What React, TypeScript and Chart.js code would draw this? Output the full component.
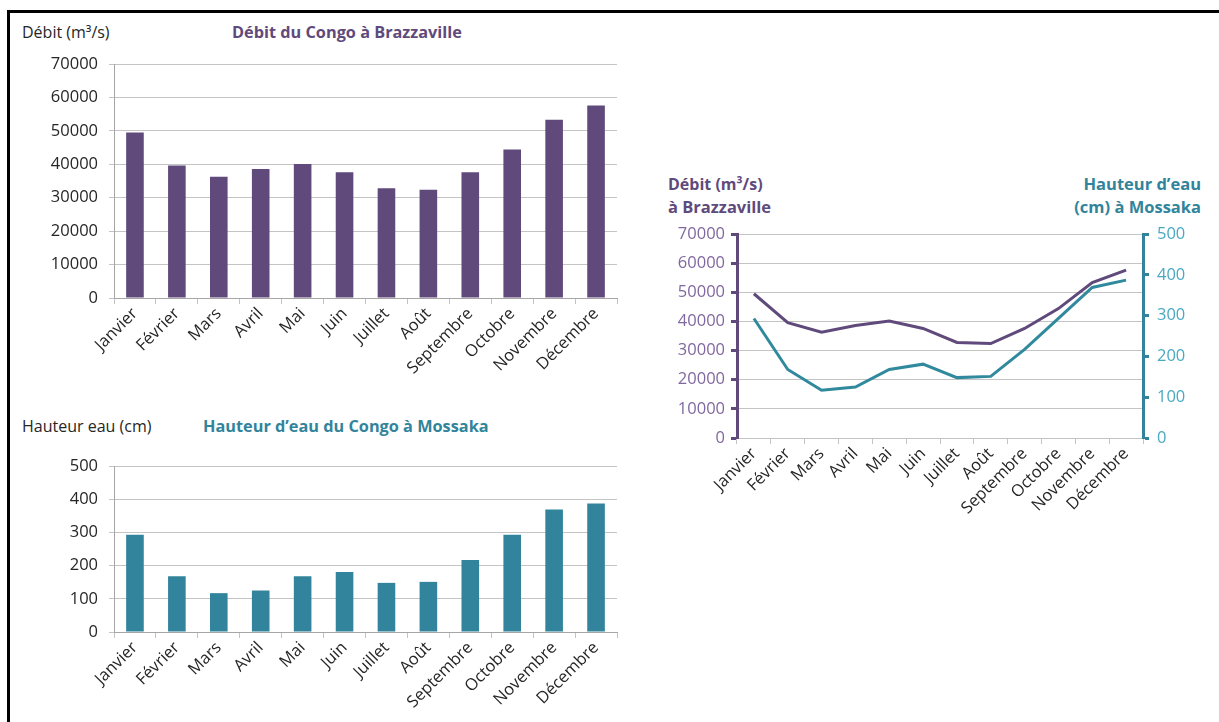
import React, { useEffect, useRef } from "react";
import { Chart, registerables } from "chart.js";

Chart.register(...registerables);

const months = [
  "Janvier", "Février", "Mars", "Avril", "Mai", "Juin",
  "Juillet", "Août", "Septembre", "Octobre", "Novembre", "Décembre",
];
const debitBrazzaville = [49500, 39600, 36300, 38600, 40100, 37600, 32800, 32400, 37600, 44400, 53300, 57600];
const hauteurMossaka = [293, 168, 117, 125, 168, 181, 148, 151, 217, 293, 369, 387];

const PURPLE = "#604a7b";
const TEAL = "#31849b";
const PURPLE_LIGHT = "#8067a0";
const TEAL_LIGHT = "#4aa9c2";
const GRID = "#c4c4c4";
const TEXT = "#262626";
const FONT = "'Open Sans', sans-serif";

const tickFont = { family: FONT, size: 16.5 };

function noSep(v: any) {
  return String(v);
}

function fitY(w: number) {
  return (s: any) => {
    s.width = w;
    s.paddingTop = 0;
    s.paddingBottom = 0;
  };
}

function fitX(h: number) {
  return (s: any) => {
    s.height = h;
    s.paddingLeft = 0;
    s.paddingRight = 0;
  };
}

function barConfig(data: number[], color: string, max: number, step: number, xHeight: number) {
  return {
    type: "bar" as const,
    data: {
      labels: months,
      datasets: [
        {
          data,
          backgroundColor: color,
          borderWidth: 0,
          barPercentage: 0.42,
          categoryPercentage: 1,
        },
      ],
    },
    options: {
      animation: false as const,
      responsive: false,
      maintainAspectRatio: false,
      layout: { padding: { top: 12, right: 5, left: 0, bottom: 0 } },
      plugins: { legend: { display: false }, tooltip: { enabled: false }, title: { display: false } },
      scales: {
        x: {
          grid: { drawOnChartArea: false, drawTicks: true, tickLength: 6, color: GRID },
          border: { color: "#a6a6a6" },
          ticks: { minRotation: 45, maxRotation: 45, color: TEXT, font: tickFont, padding: 0 },
          afterFit: fitX(xHeight),
        },
        y: {
          min: 0,
          max,
          ticks: { stepSize: step, color: TEXT, font: tickFont, padding: 11, callback: noSep },
          grid: { color: GRID, tickLength: 5 },
          border: { color: "#a6a6a6" },
          afterFit: fitY(94),
        },
      },
    },
  };
}

function lineConfig() {
  return {
    type: "line" as const,
    data: {
      labels: months,
      datasets: [
        {
          data: debitBrazzaville,
          yAxisID: "y",
          borderColor: PURPLE,
          backgroundColor: PURPLE,
          borderWidth: 3,
          pointRadius: 0,
          tension: 0,
        },
        {
          data: hauteurMossaka,
          yAxisID: "y1",
          borderColor: "#31899e",
          backgroundColor: "#31899e",
          borderWidth: 3,
          pointRadius: 0,
          tension: 0,
        },
      ],
    },
    options: {
      animation: false as const,
      responsive: false,
      maintainAspectRatio: false,
      layout: { padding: { top: 12, right: 0, left: 0, bottom: 0 } },
      plugins: { legend: { display: false }, tooltip: { enabled: false }, title: { display: false } },
      scales: {
        x: {
          offset: true,
          grid: { offset: true, drawOnChartArea: false, drawTicks: true, tickLength: 6, color: GRID },
          border: { color: GRID },
          ticks: { minRotation: 45, maxRotation: 45, color: TEXT, font: tickFont, padding: 0 },
          afterFit: fitX(84),
        },
        y: {
          position: "left" as const,
          min: 0,
          max: 70000,
          ticks: { stepSize: 10000, color: PURPLE_LIGHT, font: tickFont, padding: 6, callback: noSep },
          grid: { color: GRID, tickColor: PURPLE, tickWidth: 3, tickLength: 6 },
          border: { color: PURPLE, width: 3 },
          afterFit: fitY(87),
        },
        y1: {
          position: "right" as const,
          min: 0,
          max: 500,
          ticks: { stepSize: 100, color: TEAL_LIGHT, font: tickFont, padding: 8, callback: noSep },
          grid: { drawOnChartArea: false, color: TEAL, tickColor: TEAL, tickWidth: 3, tickLength: 6 },
          border: { color: TEAL, width: 3 },
          afterFit: fitY(67),
        },
      },
    },
  };
}

function ChartCanvas({ config, left, top, width, height }: any) {
  const ref = useRef<HTMLCanvasElement | null>(null);
  useEffect(() => {
    if (!ref.current) return;
    const chart = new Chart(ref.current, config);
    return () => chart.destroy();
  }, []);
  return (
    <canvas
      ref={ref}
      width={width}
      height={height}
      style={{ position: "absolute", left, top, width, height }}
    />
  );
}

function Label({ text, left, right, cy, color, bold, size }: any) {
  const style: any = {
    position: "absolute",
    top: cy - 11,
    lineHeight: "22px",
    height: 22,
    whiteSpace: "nowrap",
    fontFamily: FONT,
    fontSize: size,
    fontWeight: bold ? 700 : 400,
    color,
  };
  if (left !== undefined) style.left = left;
  if (right !== undefined) style.right = right;
  return <div style={style}>{text}</div>;
}

export default function App() {
  return (
    <div
      style={{
        position: "fixed",
        left: 0,
        top: 0,
        width: 1219,
        height: 722,
        overflow: "hidden",
        background: "#ffffff",
      }}
    >
      <div
        style={{
          position: "absolute",
          left: 7,
          top: 10,
          width: 1300,
          height: 800,
          border: "3px solid #000",
          boxSizing: "border-box",
        }}
      />
      <Label text="Débit (m³/s)" left={22} cy={32} color={TEXT} size={16} />
      <Label text="Débit du Congo à Brazzaville" left={232} cy={32} color={PURPLE} bold size={16.3} />
      <Label text="Hauteur eau (cm)" left={22} cy={426} color={TEXT} size={16} />
      <Label text="Hauteur d’eau du Congo à Mossaka" left={203} cy={426} color={TEAL} bold size={16.3} />
      <Label text="Débit (m³/s)" left={668} cy={184} color={PURPLE} bold size={16} />
      <Label text="à Brazzaville" left={668} cy={207} color={PURPLE} bold size={16.5} />
      <Label text="Hauteur d’eau" right={18} cy={184} color={TEAL} bold size={16.5} />
      <Label text="(cm) à Mossaka" right={18} cy={207} color={TEAL} bold size={16.5} />

      <ChartCanvas config={barConfig(debitBrazzaville, PURPLE, 70000, 10000, 94)} left={20} top={52} width={602} height={340} />
      <ChartCanvas config={barConfig(hauteurMossaka, TEAL, 500, 100, 90)} left={20} top={454} width={602} height={268} />
      <ChartCanvas config={lineConfig()} left={650} top={222} width={560} height={300} />
    </div>
  );
}
